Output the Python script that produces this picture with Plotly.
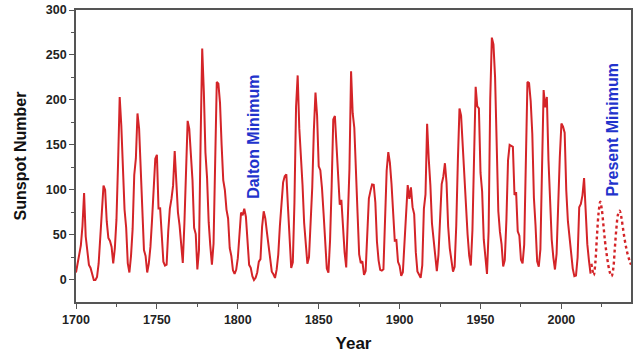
import plotly.graph_objects as go

years = list(range(1700, 2019))
sunspots = [
    8.3, 18.3, 26.7, 38.3, 60.0, 96.7, 48.3, 33.3, 16.7, 13.3,
    5.0, 0.0, 0.0, 3.3, 18.3, 45.0, 78.3, 105.0, 100.0, 65.0,
    46.7, 43.3, 36.7, 18.3, 35.0, 66.7, 130.0, 203.3, 171.7, 121.7,
    78.3, 58.3, 18.3, 8.3, 26.7, 56.7, 116.7, 135.0, 185.0, 168.3,
    121.7, 66.7, 33.3, 26.7, 8.3, 18.3, 36.7, 66.7, 100.0, 134.8,
    139.0, 79.5, 79.7, 51.2, 20.3, 16.0, 17.0, 54.0, 79.3, 90.0,
    104.8, 143.2, 102.0, 75.2, 60.7, 34.8, 19.0, 63.0, 116.3, 176.8,
    168.0, 136.0, 110.8, 58.0, 51.0, 11.7, 33.0, 154.2, 257.3, 209.8,
    141.3, 113.5, 64.2, 38.0, 17.0, 40.2, 138.2, 220.0, 218.2, 196.8,
    149.8, 111.0, 100.0, 78.2, 68.3, 35.5, 26.7, 10.7, 6.8, 11.3,
    24.2, 56.7, 75.0, 71.8, 79.2, 70.3, 46.8, 16.8, 13.5, 4.2,
    0.0, 2.3, 8.3, 20.3, 23.2, 59.0, 76.3, 68.3, 52.9, 38.5,
    24.2, 9.2, 6.3, 2.2, 11.4, 28.2, 59.9, 83.0, 108.5, 115.2,
    117.4, 80.8, 44.3, 13.4, 19.5, 85.8, 192.7, 227.3, 168.7, 143.0,
    105.5, 63.3, 40.3, 18.1, 25.1, 65.8, 102.7, 166.3, 208.3, 182.5,
    126.3, 122.0, 102.7, 74.1, 39.0, 12.7, 8.2, 43.4, 104.4, 178.3,
    182.2, 146.6, 112.1, 83.5, 89.2, 57.8, 30.7, 13.9, 62.8, 123.6,
    232.0, 185.3, 169.2, 110.1, 74.5, 28.3, 18.9, 20.7, 5.7, 10.0,
    53.7, 90.5, 99.0, 106.1, 105.8, 86.3, 42.4, 21.8, 11.2, 10.4,
    11.8, 59.5, 121.7, 142.0, 130.0, 106.6, 69.4, 43.8, 44.4, 20.2,
    15.7, 4.6, 8.5, 40.8, 70.1, 105.5, 90.1, 102.8, 80.9, 73.2,
    30.9, 9.5, 6.0, 2.4, 16.1, 79.0, 95.0, 173.6, 134.6, 105.7,
    62.7, 43.5, 23.7, 9.7, 27.9, 74.0, 106.5, 114.7, 129.7, 108.2,
    59.4, 35.1, 18.6, 9.2, 14.6, 60.2, 132.8, 190.6, 182.6, 148.0,
    113.0, 79.2, 50.8, 27.1, 16.1, 55.3, 154.3, 214.7, 193.0, 190.7,
    118.9, 98.3, 45.0, 20.1, 6.6, 54.2, 200.7, 269.3, 261.7, 225.1,
    159.0, 76.4, 53.4, 39.9, 15.0, 22.0, 66.8, 132.9, 150.0, 149.4,
    148.0, 94.4, 97.6, 54.1, 49.2, 22.5, 18.4, 39.3, 131.0, 220.1,
    218.9, 198.9, 162.4, 91.0, 60.5, 20.6, 14.8, 33.9, 123.0, 211.1,
    191.8, 203.3, 133.0, 76.1, 44.9, 25.1, 11.6, 28.9, 88.3, 136.3,
    173.9, 170.4, 163.6, 99.3, 65.3, 45.8, 24.7, 12.6, 4.2, 4.8,
    24.9, 80.8, 84.5, 94.0, 113.3, 69.8, 39.8, 21.7, 7.0,
]

pred_years = [2018.5, 2019.5, 2020, 2021, 2022, 2023, 2024, 2025, 2026, 2027,
              2028, 2029, 2030, 2031, 2032, 2033, 2034, 2035, 2036, 2037,
              2038, 2039, 2040, 2041, 2042, 2043]
pred_values = [18, 8, 5, 20, 50, 75, 87, 78, 60, 42,
               28, 16, 8, 4, 12, 35, 58, 73, 77, 70,
               58, 46, 36, 28, 22, 17]

x_ticks = [1700, 1750, 1800, 1850, 1900, 1950, 2000]
y_ticks = [0, 50, 100, 150, 200, 250, 300]

notes = [
    {"text": "Dalton Minimum", "x": 1810, "y": 159},
    {"text": "Present Minimum", "x": 2031.7, "y": 167},
]

RED = "#d42428"
BLUE = "#2233cc"
FONT = "Liberation Sans, Arial, sans-serif"

fig = go.Figure()
fig.add_trace(go.Scatter(x=years, y=sunspots, mode="lines",
                         line=dict(color=RED, width=2), showlegend=False))
fig.add_trace(go.Scatter(x=pred_years, y=pred_values, mode="lines",
                         line=dict(color=RED, width=2.4, dash="dot", shape="spline"),
                         showlegend=False))

for n in notes:
    fig.add_annotation(x=n["x"], y=n["y"], text="<b>%s</b>" % n["text"],
                       textangle=-90, showarrow=False,
                       font=dict(family=FONT, size=16, color=BLUE))

axis_common = dict(
    showgrid=False, zeroline=False, showline=True, linecolor="#555555",
    linewidth=1.6, mirror=True, ticks="outside", ticklen=5, tickwidth=1.3,
    tickcolor="#555555",
    tickfont=dict(family=FONT, size=12.5, color="#222222"),
)

fig.update_xaxes(
    range=[1700, 2043], tickvals=x_ticks, ticktext=[f"<b>{v}</b>" for v in x_ticks],
    minor=dict(dtick=25, tick0=1700, ticks="outside", ticklen=3, tickcolor="#555555"),
    title=dict(text="<b>Year</b>", font=dict(family=FONT, size=17, color="#111111"),
               standoff=11),
    **axis_common,
)
fig.update_yaxes(
    range=[-24.5, 300], tickvals=y_ticks, ticktext=[f"<b>{v}</b>" for v in y_ticks],
    minor=dict(dtick=25, tick0=0, ticks="outside", ticklen=3, tickcolor="#555555"),
    title=dict(text="<b>Sunspot Number</b>", font=dict(family=FONT, size=16, color="#111111"),
               standoff=15),
    **axis_common,
)

fig.update_layout(
    width=640, height=353,
    margin=dict(l=76, r=9, t=10, b=51, autoexpand=False),
    plot_bgcolor="white", paper_bgcolor="white",
    font=dict(family=FONT),
)

fig.write_html("out.html")
